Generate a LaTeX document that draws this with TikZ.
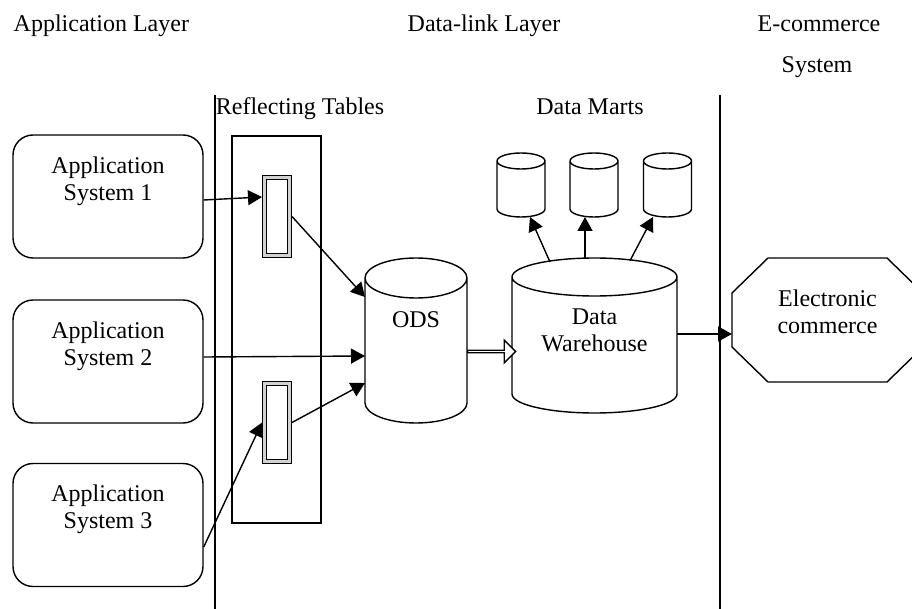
\documentclass[tikz,border=0pt]{standalone}
\usepackage{fontspec}
\setmainfont{Liberation Serif}
\usetikzlibrary{shapes.arrows,arrows.meta,calc}

% outline of a database drum round a named box: name, x radius, y radius
\newcommand\drumline[3]{%
  \draw ($(#1.north west)+(0,#3)$) -- ($(#1.south west)+(0,-#3)$)
    arc[start angle=180, end angle=360, x radius=#2pt, y radius=#3pt]
    -- ($(#1.north east)+(0,#3)$)
    arc[start angle=0, end angle=180, x radius=#2pt, y radius=#3pt]
    arc[start angle=180, end angle=360, x radius=#2pt, y radius=#3pt];}

\begin{document}
\begin{tikzpicture}[x=1pt, y=-1pt, line width=1.4pt, font=\fontsize{24}{27}\selectfont,
  appbox/.style={draw, rounded corners=20pt, minimum width=190, minimum height=123, inner sep=0pt},
  inlabel/.style={align=center, inner sep=0pt},
  tablebox/.style={draw, double=gray!35, double distance=2.5pt, line width=1.2pt, minimum width=25, minimum height=78, inner sep=0pt, outer sep=2.5pt},
  drum/.style={inner sep=0pt, outer sep=0pt},
  feed/.style={-{Triangle[length=14pt,width=15pt]}}]

\useasboundingbox (0,0) rectangle (912,609);

\node[anchor=base west, inner sep=0pt] (applayer) at (13,32) {Application Layer};
\node[anchor=base, inner sep=0pt] (linklayer) at (484,32) {Data-link Layer};
\node[anchor=base, inner sep=0pt] (ecsys) at (819,32) {E-commerce};
\node[anchor=base, inner sep=0pt] (ecsys2) at (817,73) {System};
\node[anchor=base, inner sep=0pt] (refltitle) at (300,115) {Reflecting Tables};
\node[anchor=base, inner sep=0pt] (marttitle) at (590,115) {Data Marts};

\draw (215,95) -- (215,609);
\draw (720,95) -- (720,609);

\node[appbox, label={[inlabel,yshift=15.5pt]center:Application\\System 1}] (app1) at (108,196.5) {};
\node[appbox, label={[inlabel,yshift=15.5pt]center:Application\\System 2}] (app2) at (108,361.5) {};
\node[appbox, label={[inlabel,yshift=15.5pt]center:Application\\System 3}] (app3) at (108,525) {};

\node[draw, minimum width=89, minimum height=387, inner sep=0pt] (refl) at (276.5,329.5) {};
\node[tablebox] (tbl1) at (277,216.5) {};
\node[tablebox] (tbl2) at (277,422.5) {};

\node[drum, minimum width=102, minimum height=165, label={[inlabel,yshift=21pt]center:ODS}] (ods) at (416,340.5) {};
\node[drum, minimum width=165, minimum height=155, label={[inlabel,yshift=5pt]center:Data\\Warehouse}] (dw) at (594.5,335.5) {};
\node[drum, minimum width=48, minimum height=64] (mart1) at (521,185) {};
\node[drum, minimum width=48, minimum height=64] (mart2) at (594,185) {};
\node[drum, minimum width=48, minimum height=64] (mart3) at (667.5,185) {};
\drumline{ods}{51}{20}
\drumline{dw}{82.5}{19}
\foreach \m in {mart1,mart2,mart3}
  {\drumline{\m}{24}{8}}

\node[single arrow, draw, fill=white, minimum height=48, minimum width=23, single arrow head extend=6pt, inner sep=0pt, anchor=west] (flow) at ($(ods.east)+(0,11)$) {};

\node[inner sep=0pt, outer sep=0pt, minimum width=191, minimum height=124, label={[inlabel,yshift=8.5pt]center:Electronic\\commerce}] (ec) at (827.5,320) {};
\draw ($(ec.north west)+(36,0)$) -- ($(ec.north east)+(-36,0)$) -- ($(ec.north east)+(0,35)$)
  -- ($(ec.south east)+(0,-35)$) -- ($(ec.south east)+(-36,0)$) -- ($(ec.south west)+(36,0)$)
  -- ($(ec.south west)+(0,-35)$) -- ($(ec.north west)+(0,35)$) -- cycle;

\draw[feed] ($(app1.east)+(0,3.5)$) -- ($(tbl1.west)+(0,-19.5)$);
\draw[feed] (tbl1.east) -- ($(ods.west)+(0,-43.5)$);
\draw[feed] ($(app2.east)+(0,-4.5)$) -- ($(ods.west)+(0,15.5)$);
\draw[feed] (tbl2.east) -- ($(ods.west)+(0,42.5)$);
\draw[feed] ($(app3.east)+(0,22)$) -- (tbl2.west);
\draw[feed] ($(dw.north)+(-44.5,4)$) -- ($(mart1.south)+(9,0)$);
\draw[feed] ($(dw.north)+(-9.5,0.8)$) -- ($(mart2.south)+(-9,0)$);
\draw[feed] ($(dw.north)+(35.5,2.7)$) -- ($(mart3.south)+(-14.5,0)$);
\draw[feed] ($(dw.east)+(0,-1.5)$) -- ($(ec.west)+(0,14)$);
\end{tikzpicture}
\end{document}
